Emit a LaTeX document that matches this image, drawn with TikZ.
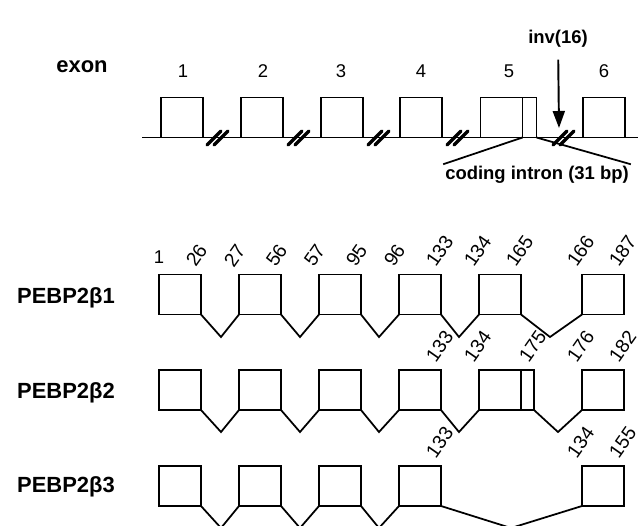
\documentclass[tikz,border=0pt]{standalone}
\usepackage{fontspec}
\setmainfont{Liberation Sans}
\usetikzlibrary{arrows.meta,calc,positioning}

\begin{document}
\begin{tikzpicture}[x=0.02cm, y=-0.02cm,
    exbox/.style={draw, line width=1.1pt, minimum width=0.84cm, minimum height=0.8cm, inner sep=0pt, outer sep=0pt},
    intr/.style={exbox, minimum width=0.28cm, anchor=west},
    splice/.style={line width=1pt},
    brk/.style={line width=2pt, line cap=round},
    arr/.style={-{Triangle[length=0.34cm, width=0.24cm]}, line width=1.1pt},
    big/.style={font=\bfseries\fontsize{12.5}{14}\selectfont},
    hdr/.style={font=\bfseries\fontsize{10.5}{12}\selectfont, inner sep=1pt},
    enum/.style={font=\fontsize{10.5}{12}\selectfont},
    tck/.style={font=\fontsize{11}{12}\selectfont, rotate=55, anchor=south west, inner sep=0pt}
]
\clip (0,0) rectangle (643,525);
\fill[white] (0,0) rectangle (643,525);

% gene
\node[big] (exlbl) at (82,67) {exon};
\node[exbox] (e1) at (182,117.5) {};
\node[exbox] (e2) at (262,117.5) {};
\node[exbox] (e3) at (342,117.5) {};
\node[exbox] (e4) at (421,117.5) {};
\node[exbox] (e5) at (501.5,117.5) {};
\node[intr] (e5i) at (e5.east) {};
\node[exbox] (e6) at (604,117.5) {};
\node[enum] (n1) at (183,71) {1};
\node[enum] (n2) at (263,71) {2};
\node[enum] (n3) at (341,71) {3};
\node[enum] (n4) at (421,71) {4};
\node[enum] (n5) at (509,71) {5};
\node[enum] (n6) at (604,71) {6};
\coordinate (gl) at (142,137.5);
\coordinate (gr) at (638,137.5);
\draw[line width=1.1pt] (gl) -- (gr);
\foreach \x in {218,299,379,458,564}{
  \draw[brk] (\x-11,145) -- (\x+3,131);
  \draw[brk] (\x-4,145) -- (\x+10,131);
}
\node[hdr] (inv) at (558,39) {inv(16)};
\coordinate (cut) at (559,128);
\draw[arr, shorten <=0.2cm] (inv) -- (cut);
\node[hdr] (cin) at (537,175) {coding intron (31 bp)};
\draw[line width=1pt] (e5.south east) -- (cin.north west);
\draw[line width=1pt] (e5i.south east) -- (cin.north east);

% PEBP2beta1
\node[big] (p1) at (66,298) {PEBP2β1};
\node[exbox] (a1) at (180,294.5) {};
\node[exbox] (a2) at (260,294.5) {};
\node[exbox] (a3) at (340,294.5) {};
\node[exbox] (a4) at (420,294.5) {};
\node[exbox] (a5) at (500,294.5) {};
\node[exbox] (a6) at (603,294.5) {};
\coordinate (va1) at (221,337);
\coordinate (va2) at (300,337);
\coordinate (va3) at (379,337);
\coordinate (va4) at (459,337);
\coordinate (va5) at (550,337);
\draw[splice] (a1.south east) -- (va1) -- (a2.south west);
\draw[splice] (a2.south east) -- (va2) -- (a3.south west);
\draw[splice] (a3.south east) -- (va3) -- (a4.south west);
\draw[splice] (a4.south east) -- (va4) -- (a5.south west);
\draw[splice] (a5.south east) -- (va5) -- (a6.south west);
\node[enum, anchor=south, inner sep=0pt] (la1) at ($(a1.north west)+(0,-11)$) {1};
\node[tck] (la26) at ($(a1.north east)+(-5,-6)$) {26};
\node[tck] (la27) at ($(a2.north west)+(-5,-6)$) {27};
\node[tck] (la56) at ($(a2.north east)+(-5,-6)$) {56};
\node[tck] (la57) at ($(a3.north west)+(-5,-6)$) {57};
\node[tck] (la95) at ($(a3.north east)+(-5,-6)$) {95};
\node[tck] (la96) at ($(a4.north west)+(-5,-6)$) {96};
\node[tck] (la133) at ($(a4.north east)+(-5,-6)$) {133};
\node[tck] (la134) at ($(a5.north west)+(-5,-6)$) {134};
\node[tck] (la165) at ($(a5.north east)+(-5,-6)$) {165};
\node[tck] (la166) at ($(a6.north west)+(-5,-6)$) {166};
\node[tck] (la187) at ($(a6.north east)+(-5,-6)$) {187};

% PEBP2beta2
\node[big] (p2) at (66,393) {PEBP2β2};
\node[exbox] (b1) at (180,390) {};
\node[exbox] (b2) at (260,390) {};
\node[exbox] (b3) at (340,390) {};
\node[exbox] (b4) at (420,390) {};
\node[exbox] (b5) at (500,390) {};
\node[intr, minimum width=0.26cm] (b5i) at (b5.east) {};
\node[exbox] (b6) at (603,390) {};
\coordinate (vb1) at (221,432);
\coordinate (vb2) at (300,432);
\coordinate (vb3) at (379,432);
\coordinate (vb4) at (459,432);
\coordinate (vb5) at (558,432);
\draw[splice] (b1.south east) -- (vb1) -- (b2.south west);
\draw[splice] (b2.south east) -- (vb2) -- (b3.south west);
\draw[splice] (b3.south east) -- (vb3) -- (b4.south west);
\draw[splice] (b4.south east) -- (vb4) -- (b5.south west);
\draw[splice] (b5i.south east) -- (vb5) -- (b6.south west);
\node[tck] (lb133) at ($(b4.north east)+(-5,-6)$) {133};
\node[tck] (lb134) at ($(b5.north west)+(-5,-6)$) {134};
\node[tck] (lb175) at ($(b5i.north east)+(-5,-6)$) {175};
\node[tck] (lb176) at ($(b6.north west)+(-5,-6)$) {176};
\node[tck] (lb182) at ($(b6.north east)+(-5,-6)$) {182};

% PEBP2beta3
\node[big] (p3) at (66,487) {PEBP2β3};
\node[exbox] (c1) at (180,486) {};
\node[exbox] (c2) at (260,486) {};
\node[exbox] (c3) at (340,486) {};
\node[exbox] (c4) at (420,486) {};
\node[exbox] (c6) at (603,486) {};
\coordinate (vc1) at (221,528);
\coordinate (vc2) at (300,528);
\coordinate (vc3) at (379,528);
\coordinate (vc4) at (511,528);
\draw[splice] (c1.south east) -- (vc1) -- (c2.south west);
\draw[splice] (c2.south east) -- (vc2) -- (c3.south west);
\draw[splice] (c3.south east) -- (vc3) -- (c4.south west);
\draw[splice] (c4.south east) -- (vc4) -- (c6.south west);
\node[tck] (lc133) at ($(c4.north east)+(-5,-6)$) {133};
\node[tck] (lc134) at ($(c6.north west)+(-5,-6)$) {134};
\node[tck] (lc155) at ($(c6.north east)+(-5,-6)$) {155};
\end{tikzpicture}
\end{document}
